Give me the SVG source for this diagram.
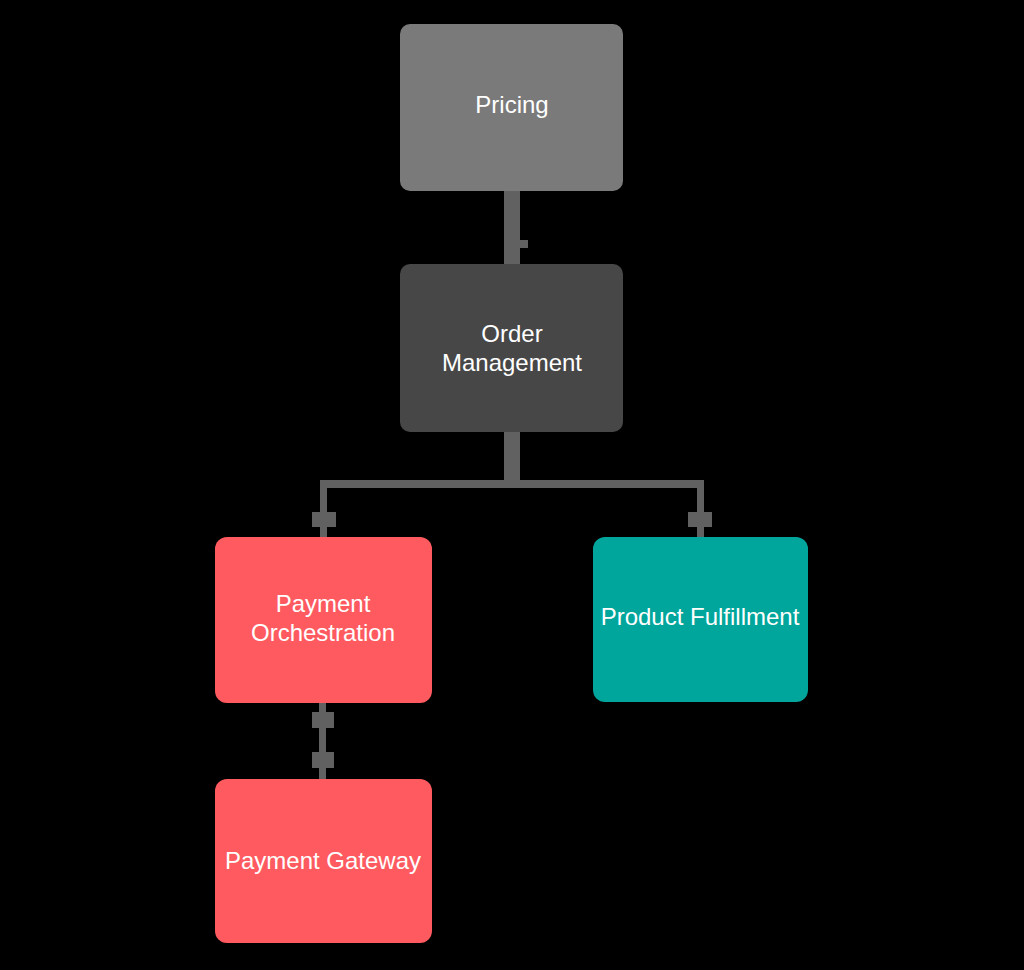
<svg xmlns="http://www.w3.org/2000/svg" width="1024" height="970" viewBox="0 0 1024 970">
<style>
.node rect{stroke:none}
.lbl{font-family:"Liberation Sans",Arial,sans-serif;font-size:24px;fill:#ffffff;text-anchor:middle}
.wire{fill:#616161}
</style>
<rect x="0" y="0" width="1024" height="970" fill="#000000"/>
<g id="connectors" class="wire">
  <rect x="504" y="190" width="16" height="76"/>
  <rect x="519" y="240" width="9" height="8"/>
  <rect x="504" y="430" width="16" height="54"/>
  <rect x="320" y="480" width="384" height="8"/>
  <rect x="320" y="480" width="7" height="58"/>
  <rect x="697" y="480" width="7" height="58"/>
  <rect x="312" y="512" width="24" height="15"/>
  <rect x="688" y="512" width="24" height="15"/>
  <rect x="319" y="701" width="7" height="80"/>
  <rect x="312" y="712" width="22" height="16"/>
  <rect x="312" y="752" width="22" height="16"/>
</g>
<g id="pricing" class="node">
  <rect x="400" y="24" width="223" height="167" rx="10" fill="#7a7a7a"/>
  <text class="lbl" x="512" y="113">Pricing</text>
</g>
<g id="order-management" class="node">
  <rect x="400" y="264" width="223" height="168" rx="10" fill="#474747"/>
  <text class="lbl" x="512" y="342">Order</text>
  <text class="lbl" x="512" y="371">Management</text>
</g>
<g id="payment-orchestration" class="node">
  <rect x="215" y="537" width="217" height="166" rx="12" fill="#fe5a5f"/>
  <text class="lbl" x="323" y="612">Payment</text>
  <text class="lbl" x="323" y="641">Orchestration</text>
</g>
<g id="product-fulfillment" class="node">
  <rect x="593" y="537" width="215" height="165" rx="12" fill="#00a69c"/>
  <text class="lbl" x="700" y="625">Product Fulfillment</text>
</g>
<g id="payment-gateway" class="node">
  <rect x="215" y="779" width="217" height="164" rx="12" fill="#fe5a5f"/>
  <text class="lbl" x="323" y="869">Payment Gateway</text>
</g>
</svg>
